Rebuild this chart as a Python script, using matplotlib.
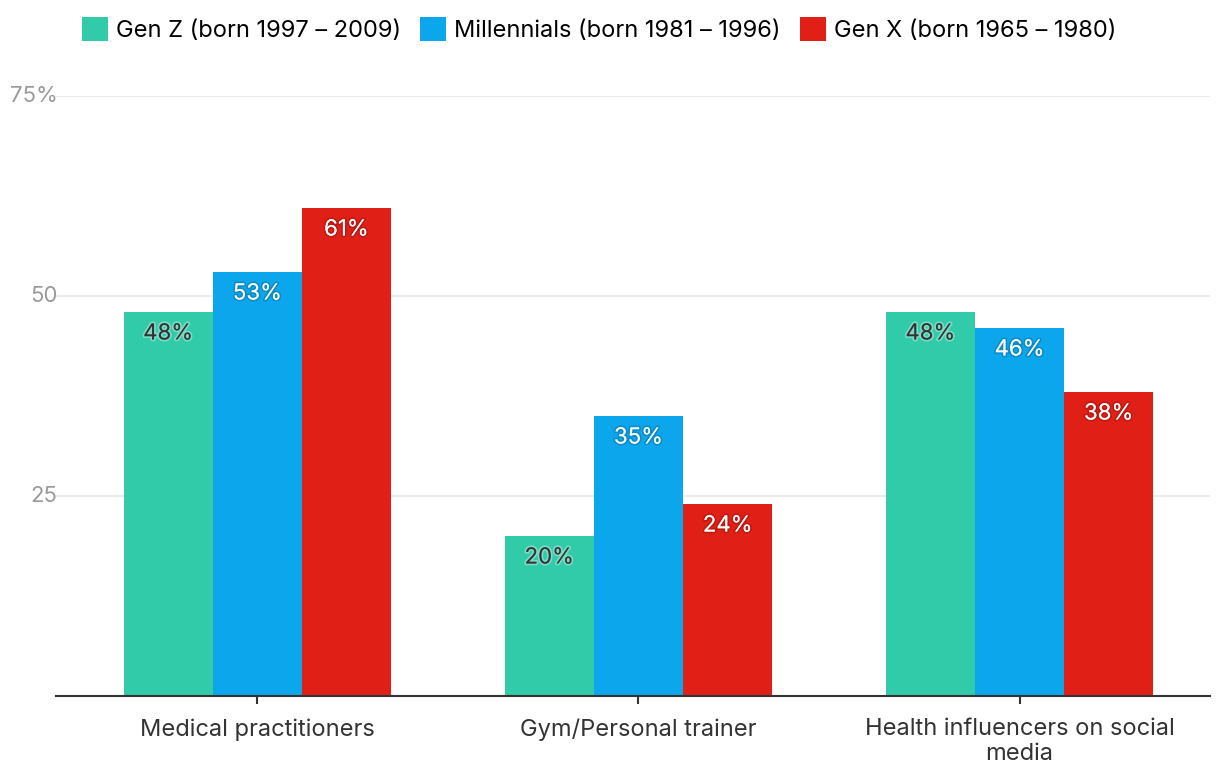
import numpy as np
import matplotlib.pyplot as plt
import matplotlib.patheffects as pe

plt.rcParams["font.family"] = ["Inter", "DejaVu Sans"]

categories = ["Medical practitioners", "Gym/Personal trainer", "Health influencers on social\nmedia"]
series = ["Gen Z (born 1997 – 2009)", "Millennials (born 1981 – 1996)", "Gen X (born 1965 – 1980)"]
gen_z = [48, 20, 48]
millennials = [53, 35, 46]
gen_x = [61, 24, 38]
colors = ["#31cba9", "#0ba6ec", "#e01f17"]

fig = plt.figure(figsize=(12.2, 7.84), dpi=100)
ax = fig.add_axes([0.046, 0.1122, 0.9459, 0.7654])

x = np.arange(len(categories))
width = 0.234
for i, (name, vals) in enumerate(zip(series, [gen_z, millennials, gen_x])):
    bars = ax.bar(x + (i - 1) * width, vals, width=width, color=colors[i], label=name, zorder=2)
    if i == 0:
        tc, fx = "#333333", [pe.withStroke(linewidth=2.5, foreground=(1, 1, 1, 0.35))]
    else:
        tc, fx = "white", [pe.withStroke(linewidth=2.5, foreground=(0, 0, 0, 0.15))]
    for b, v in zip(bars, vals):
        ax.annotate(f"{v}%", (b.get_x() + b.get_width() / 2, v), xytext=(0, -15.5),
                    textcoords="offset points", ha="center", va="center",
                    fontsize=16, color=tc, path_effects=fx, zorder=3)

ax.set_xlim(-0.528, 2.5)
ax.set_ylim(0, 75)
ax.set_yticks([25, 50, 75])
ax.set_yticklabels(["25", "50", "75%"])
ax.set_xticks(x)
ax.set_xticklabels(categories, linespacing=1.15)
ax.grid(axis="y", color="#e6e6e6", linewidth=1.2, zorder=0)
for s in ["top", "right", "left"]:
    ax.spines[s].set_visible(False)
ax.spines["bottom"].set_color("#333333")
ax.spines["bottom"].set_linewidth(1.5)
ax.tick_params(axis="y", length=0, labelsize=16, labelcolor="#999999", pad=-1)
ax.tick_params(axis="x", length=6, width=1.5, color="#333333", labelsize=17,
               labelcolor="#333333", pad=10)
for t in ax.get_yticklabels():
    t.set_verticalalignment("center")

fig.legend(loc="upper center", bbox_to_anchor=(0.491, 1.005), ncols=3, frameon=False,
           fontsize=17, handlelength=1.1, handleheight=1.15, handletextpad=0.35,
           columnspacing=0.8)

fig.savefig("out.png", dpi=100)
